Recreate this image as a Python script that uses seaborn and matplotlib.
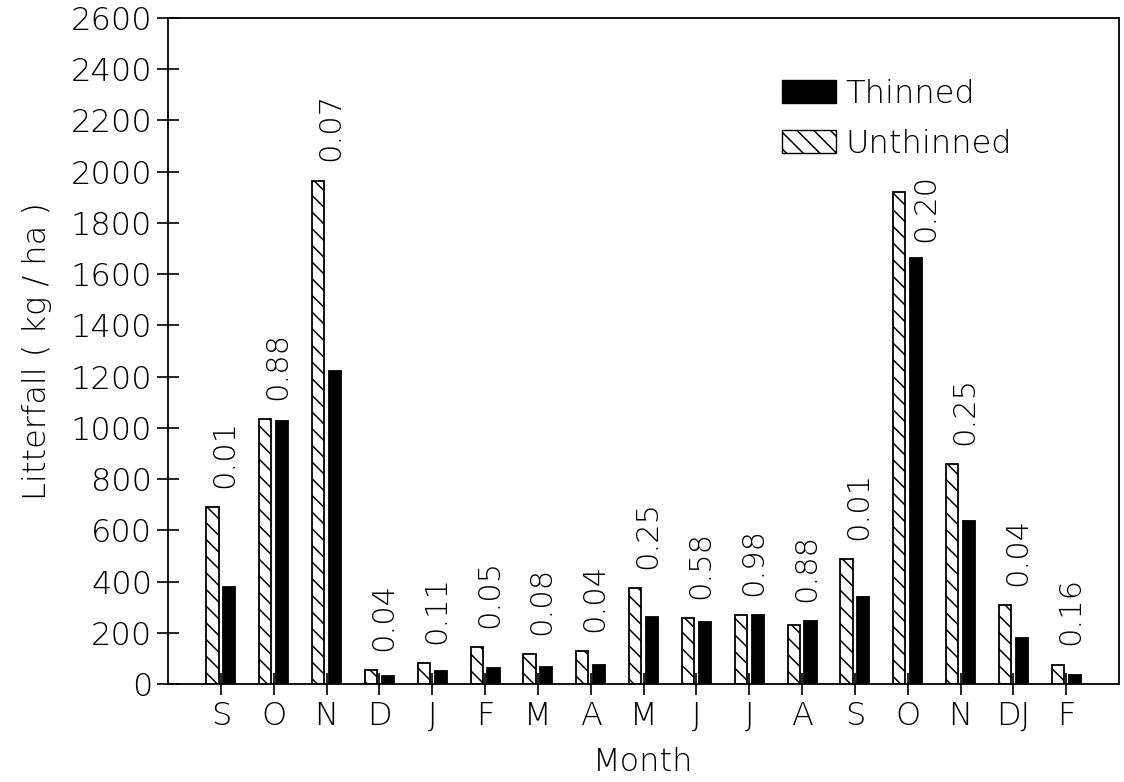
import matplotlib
matplotlib.use("Agg")
import matplotlib.pyplot as plt
import matplotlib.patches as mpatches
import seaborn as sns
import pandas as pd

months = ["S", "O", "N", "D", "J", "F", "M", "A", "M", "J", "J", "A", "S", "O", "N", "DJ", "F"]
unthinned = [692, 1035, 1965, 55, 83, 143, 118, 129, 373, 257, 268, 229, 488, 1919, 859, 308, 76]
thinned = [380, 1026, 1220, 32, 49, 62, 65, 74, 262, 241, 269, 246, 340, 1664, 636, 180, 35]
pvalues = ["0.01", "0.88", "0.07", "0.04", "0.11", "0.05", "0.08", "0.04", "0.25", "0.58",
           "0.98", "0.88", "0.01", "0.20", "0.25", "0.04", "0.16"]

sns.set_theme(style="ticks")
plt.rcParams["font.family"] = ["DejaVu Sans"]
plt.rcParams["font.weight"] = "light"
plt.rcParams["axes.labelweight"] = "light"
plt.rcParams["hatch.linewidth"] = 1.1
plt.rcParams["text.color"] = "black"
plt.rcParams["axes.labelcolor"] = "black"
plt.rcParams["xtick.color"] = "black"
plt.rcParams["ytick.color"] = "black"

FS = 23

idx = list(range(len(months)))
df = pd.DataFrame({
    "pos": idx * 2,
    "value": unthinned + thinned,
    "treat": ["Unthinned"] * len(idx) + ["Thinned"] * len(idx),
})

fig = plt.figure(figsize=(11.24, 7.82), dpi=100)
ax = fig.add_axes([0.1495, 0.1253, 0.8461, 0.8517])

sns.barplot(data=df, x="pos", y="value", hue="treat", hue_order=["Unthinned", "Thinned"],
            palette={"Unthinned": "white", "Thinned": "black"}, width=0.64, gap=0.28,
            edgecolor="black", linewidth=1.3, legend=False, ax=ax, errorbar=None)

n = len(months)
for i, p in enumerate(ax.patches):
    if i < n:
        p.set_hatch("\\\\")
        p.set_facecolor("white")
        p.set_edgecolor("black")

# p-value labels
for i in idx:
    u, t = unthinned[i], thinned[i]
    top = max(u, t)
    x = i + 0.08
    y = top + 75
    if 11 <= i <= 14 and y + 300 > 2050:
        x = i + 0.34
        y = t + 60
    ax.text(x, y, pvalues[i], rotation=90, ha="center", va="bottom", fontsize=FS - 1,
            color="black", fontweight="light")

ax.set_xlim(-1, n)
ax.set_ylim(0, 2600)
ax.set_yticks(range(0, 2601, 200))
ax.set_xticks(idx)
ax.set_xticklabels(months)
ax.tick_params(axis="both", direction="inout", length=16, width=1.2, labelsize=FS,
               colors="black")
ax.tick_params(axis="x", pad=4)
for s in ax.spines.values():
    s.set_visible(True)
    s.set_linewidth(1.3)
    s.set_color("black")
ax.set_ylabel("Litterfall ( kg / ha )", fontsize=FS, labelpad=13, fontweight="light")
ax.set_xlabel("Month", fontsize=FS, labelpad=12, fontweight="light")

h1 = mpatches.Patch(facecolor="black", edgecolor="black", label="Thinned")
h2 = mpatches.Patch(facecolor="white", edgecolor="black", hatch="\\\\", label="Unthinned")
leg = ax.legend(handles=[h1, h2], loc="upper left", bbox_to_anchor=(0.632, 0.928),
                frameon=False, fontsize=FS, handlelength=1.7, handleheight=0.75,
                handletextpad=0.3, labelspacing=0.62, borderaxespad=0,
                prop={"size": FS, "weight": "light"})

fig.savefig("out.png", dpi=100)
